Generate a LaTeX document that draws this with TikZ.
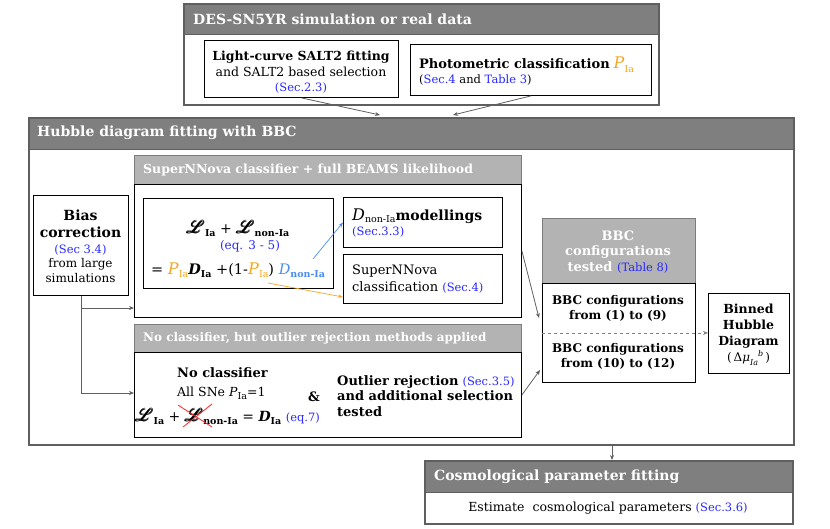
\documentclass[tikz,border=0pt]{standalone}
\usepackage{amsmath}
\usepackage{mathrsfs}
\usepackage{fontspec}
\setmainfont{DejaVu Serif}
\usetikzlibrary{arrows.meta,calc}
\definecolor{hdark}{HTML}{7F7F7F}
\definecolor{hlight}{HTML}{B3B3B3}
\definecolor{frm}{HTML}{5F5F5F}
\definecolor{refblue}{HTML}{2828FF}
\definecolor{iaorange}{HTML}{F5A623}
\definecolor{nonblue}{HTML}{4A8CF0}
\newcommand\refb[1]{\textcolor{refblue}{\mdseries #1}}
\newcommand\sbs[1]{\raisebox{-0.45ex}{\fontsize{9.5}{10}\selectfont #1}}
\newcommand\PIa{\textcolor{iaorange}{\fontsize{16}{16}\selectfont\textit{P}\sbs{Ia}}}
\newcommand\LL{{\fontsize{19}{19}\selectfont$\pmb{\mathscr{L}}$}}
\newcommand\fz[1]{\fontsize{#1}{#1}\selectfont}
\begin{document}
\begin{tikzpicture}[x=1pt,y=-1pt,
  font=\fontsize{12.5}{15.5}\selectfont,
  box/.style={draw=black, line width=0.9pt, fill=white, inner sep=0pt, anchor=north west, align=center},
  frame/.style={draw=frm, line width=1.8pt, inner sep=0pt, anchor=north west},
  hdr/.style={fill=hdark, draw=frm, line width=0.8pt, inner sep=0pt, anchor=north west},
  lhdr/.style={fill=hlight, draw=hlight!70!black, line width=0.8pt, inner sep=0pt, anchor=north west},
  htext/.style={text=white, font=\fontsize{14}{16}\selectfont\bfseries, anchor=west, inner sep=0pt},
  ltext/.style={text=white, font=\fontsize{12.5}{15}\selectfont\bfseries, anchor=west, inner sep=0pt},
  txt/.style={inner sep=0pt, align=center},
  conn/.style={draw=frm, line width=0.8pt, -{Stealth[length=5pt,width=4pt]}},
]
\useasboundingbox (0,0) rectangle (830,528);
% ---------- top box
\node[hdr, minimum width=475, minimum height=31] (tophdr) at (183,3) {};
\node[htext] (toptitle) at (193,19) {DES-SN5YR simulation or real data};
\node[frame, minimum width=475, minimum height=101] (topfrm) at (183,3) {};
\node[box, minimum width=194, minimum height=57] (lcbox) at (204,40) {};
\node[txt, font=\fontsize{12.5}{16.5}\selectfont] (lctext) at (301,72) {\textbf{Light-curve SALT2 fitting}\\and SALT2 based selection\\[-2pt]\refb{\fz{11.5}(Sec.2.3)}};
\node[box, minimum width=241, minimum height=51] (photbox) at (410,44) {};
\node[txt, align=left, anchor=west] (phottext) at (419,71) {\textbf{\fz{13}Photometric classification} \PIa\\[-1pt]{\fz{11.5}(\refb{Sec.4} and \refb{Table 3})}};
% ---------- Hubble box
\node[hdr, minimum width=765, minimum height=32] (hubhdr) at (28,117) {};
\node[htext] (hubtitle) at (37,133) {Hubble diagram fitting with BBC};
\node[frame, minimum width=765, minimum height=327] (hubfrm) at (28,117) {};
% bias correction
\node[box, minimum width=95, minimum height=100] (bias) at (33,195) {};
\node[txt, font=\fontsize{12}{15}\selectfont] (biastext) at (80.5,246) {\textbf{\fz{14}Bias}\\[2pt]\textbf{\fz{14}correction}\\[1pt]\refb{\fz{11.5}(Sec 3.4)}\\[-0.5pt]from large\\[-0.5pt]simulations};
% SuperNNova
\node[lhdr, minimum width=387, minimum height=29] (snnhdr) at (134,155) {};
\node[ltext] (snntitle) at (143,170) {SuperNNova classifier + full BEAMS likelihood};
\node[box, fill=none, minimum width=387, minimum height=133] (snnbody) at (134,184) {};
\node[box, minimum width=190, minimum height=90] (eqbox) at (143,198) {};
\node[txt, anchor=base] (eq1) at (238,233) {\fz{14}\LL\sbs{\textbf{Ia}} + \LL\sbs{\textbf{non-Ia}}};
\node[txt, anchor=base] (eq2) at (250,249) {\refb{\fz{12}(eq. 3 - 5)}};
\node[txt, anchor=base west] (eq3) at (151,274) {\fz{14.5}= \PIa\textbf{\textit{D}}\sbs{\textbf{Ia}} +(1-\PIa) \textcolor{nonblue}{\textit{D}\sbs{\textbf{non-Ia}}}};
\node[box, minimum width=159, minimum height=50] (modbox) at (343,197) {};
\node[txt, anchor=base west] (mod1) at (352,220) {{\fz{16}\textit{D}}\sbs{non-Ia}\textbf{\fz{14}modellings}};
\node[txt, anchor=base west] (mod2) at (352,235) {\refb{\fz{11.5}(Sec.3.3)}};
\node[box, minimum width=159, minimum height=49] (snnclass) at (343,254) {};
\node[txt, anchor=west, align=left, font=\fontsize{13}{17}\selectfont] (snnclasstext) at (352,279) {SuperNNova\\classification \refb{\fz{11.5}(Sec.4)}};
% no classifier
\node[lhdr, minimum width=387, minimum height=28] (nchdr) at (134,324) {};
\node[ltext, font=\fontsize{12}{15}\selectfont\bfseries] (nctitle) at (143,338) {No classifier, but outlier rejection methods applied};
\node[box, minimum width=387, minimum height=85] (ncbody) at (134,352) {};
\node[txt, anchor=west] (nc1) at (177,373) {\textbf{\fz{13}No classifier}};
\node[txt, anchor=west] (nc2) at (177,393) {All SNe \textit{P}\sbs{Ia}=1};
\node[txt, anchor=base west] (nc3) at (135,421) {\fz{14}\LL\sbs{\textbf{Ia}} + \LL\sbs{\textbf{non-Ia}} = \textbf{\textit{D}}\sbs{\textbf{Ia}} \refb{\fz{11.5}(eq.7)}};
\draw[red!85!white, line width=0.8pt] (178,405) -- (212,427) (183,427) -- (212,404);
\node[txt] (amp) at (314,397) {\textbf{\fz{13}\&}};
\node[txt, anchor=west, align=left] (outl) at (337,396) {\textbf{\fz{13}Outlier rejection} \refb{\fz{11.5}(Sec.3.5)}\\\textbf{\fz{13}and additional selection}\\\textbf{\fz{13}tested}};
% BBC configurations
\node[lhdr, minimum width=153, minimum height=65] (bbchdr) at (542,218) {};
\node[txt, text=white, font=\fontsize{13}{15.5}\selectfont\bfseries] (bbctitle) at (618,252) {BBC\\configurations\\tested \refb{\fz{11.5}(Table 8)}};
\node[box, minimum width=153, minimum height=99] (bbcbody) at (542,283) {};
\node[txt, font=\fontsize{12}{15}\selectfont\bfseries] (bbc1) at (618,308) {BBC configurations\\from (1) to (9)};
\node[txt, font=\fontsize{12}{15}\selectfont\bfseries] (bbc2) at (618,356) {BBC configurations\\from (10) to (12)};
\node[box, minimum width=81, minimum height=80] (binned) at (708,293) {};
\node[txt, font=\fontsize{12.5}{16}\selectfont\bfseries] (binnedtext) at (748.5,326) {Binned\\Hubble\\Diagram};
\node[txt, font=\fontsize{12}{14}\selectfont] (binnedmu) at (748.5,358) {(\,Δ\textit{μ}\raisebox{-0.6ex}{\fz{8}\textit{Ia}}\raisebox{0.9ex}{\fz{8}\textit{b}}\,)};
% cosmology
\node[hdr, minimum width=368, minimum height=32] (coshdr) at (424,460) {};
\node[htext] (costitle) at (434,477) {Cosmological parameter fitting};
\node[frame, minimum width=368, minimum height=63] (cosfrm) at (424,460) {};
\node[txt] (costext) at (608,508) {Estimate\ \ cosmological parameters \refb{\fz{11.5}(Sec.3.6)}};
% ---------- connectors
\coordinate (a1e) at (380,115);
\coordinate (a2e) at (453,115);
\draw[conn] (lcbox.south) -- (a1e);
\draw[conn] (photbox.south) -- (a2e);
\coordinate (snnin) at (134,308);
\coordinate (ncin) at (134,393);
\draw[conn] (bias.south) |- (snnin);
\draw[conn] (bias.south) |- (ncin);
\coordinate (bstart) at (313,259);
\coordinate (ostart) at (268,283);
\coordinate (oend) at (343,297);
\draw[nonblue, line width=0.7pt, -{Stealth[length=5pt,width=3.5pt]}] (bstart) -- (modbox.west);
\draw[iaorange, line width=0.7pt, -{Stealth[length=5pt,width=3.5pt]}] (ostart) -- (oend);
\coordinate (s2b) at (539,318);
\coordinate (n2b) at (540,370);
\draw[conn] (snnbody.east) -- (s2b);
\draw[conn] (ncbody.east) -- (n2b);
\draw[conn, dashed, draw=frm!80] (bbcbody.west) -- (bbcbody.west -| binned.west);
\coordinate (hc) at (612,444);
\draw[conn] (hc) -- (hc |- coshdr.north);
\end{tikzpicture}
\end{document}
